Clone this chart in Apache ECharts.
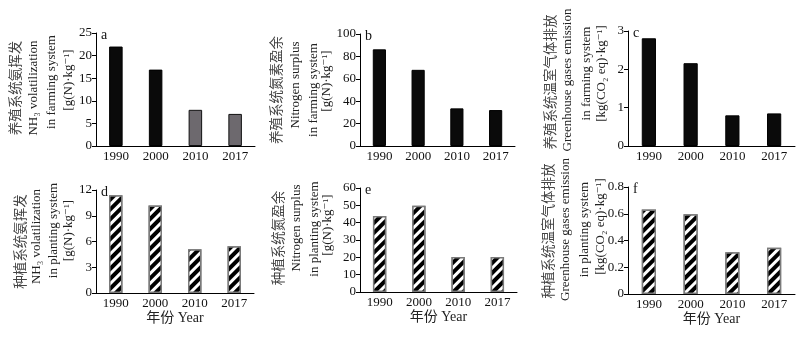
<!DOCTYPE html>
<html><head><meta charset="utf-8">
<script src="https://cdn.jsdelivr.net/npm/echarts@6/dist/echarts.min.js"></script>
<style>html,body{margin:0;padding:0;background:#fff}#c{width:803px;height:339px}</style>
</head><body><div id="c"></div>
<script>
var years = ['1990','2000','2010','2017'];
var nh3Farming = [22.0, 16.9, 8.0, 7.1];
var nSurplusFarming = [86.3, 68.0, 33.6, 32.1];
var ghgFarming = [2.81, 2.16, 0.80, 0.85];
var nh3Planting = [11.4, 10.2, 5.1, 5.45];
var nSurplusPlanting = [43.8, 49.8, 20.2, 20.2];
var ghgPlanting = [0.631, 0.596, 0.313, 0.345];
var panelLetters = ['a','b','c','d','e','f'];
var yMax = [25, 100, 3, 12, 60, 0.8];
var yStep = [5, 20, 1, 3, 10, 0.2];
var yNameLines = [
  ['养殖系统氨挥发','NH₃ volatilization','in farming system','[g(N)·kg⁻¹]'],
  ['养殖系统氮素盈余','Nitrogen surplus','in farming system','[g(N)·kg⁻¹]'],
  ['养殖系统温室气体排放','Greenhouse gases emission','in farming system','[kg(CO₂ eq)·kg⁻¹]'],
  ['种植系统氨挥发','NH₃ volatilization','in planting system','[g(N)·kg⁻¹]'],
  ['种植系统氮盈余','Nitrogen surplus','in planting system','[g(N)·kg⁻¹]'],
  ['种植系统温室气体排放','Greenhouse gases emission','in planting system','[kg(CO₂ eq)·kg⁻¹]']
];
var xName = '年份 Year';
var allData = [nh3Farming, nSurplusFarming, ghgFarming, nh3Planting, nSurplusPlanting, ghgPlanting];

var grids = [
  {left:96, top:33, width:159, height:113},
  {left:360, top:34, width:155, height:112},
  {left:628, top:31, width:167, height:115},
  {left:96, top:190, width:158, height:103},
  {left:360, top:188, width:157, height:104},
  {left:628, top:187, width:167, height:107}
];
var lineOffsets = [
  [-81,-62,-44,-27],
  [-84,-64,-46,-33],
  [-78,-60,-41,-26],
  [-76,-59,-42,-27],
  [-82,-63,-45,-32],
  [-80,-62,-43,-27]
];
var lineShifts = [
  [-1.5,-1.5,-7.5,-9.5],
  [0,-5,0,-9],
  [-6.5,-8.5,-15,-15],
  [0,-5,-11,-11],
  [-2,-12,-11,-15],
  [-9.5,-11,-11,-14]
];
var SERIF = '"Liberation Serif","DejaVu Serif",serif';
var CJK = '"Noto Sans CJK SC",sans-serif';
var options = {grid:[], xAxis:[], yAxis:[], series:[], title:[], graphic:[], animation:false, backgroundColor:'#fff'};
for (var i=0;i<6;i++){
  var g = grids[i];
  options.grid.push(Object.assign({containLabel:false}, g));
  options.xAxis.push({
    type:'category', gridIndex:i, data:years,
    name: i>=3 ? xName : '', nameLocation:'middle', nameGap:18,
    nameTextStyle:{fontFamily:SERIF+','+CJK, fontSize:14, color:'#222', verticalAlign:'top'},
    axisLine:{lineStyle:{color:'#000', width:1}},
    axisTick:{inside:true, length:4, lineStyle:{color:'#000'}},
    axisLabel:{fontFamily:SERIF, fontSize:13, color:'#111', margin:4}
  });
  options.yAxis.push({
    type:'value', gridIndex:i, min:0, max:yMax[i], interval:yStep[i],
    splitLine:{show:false},
    axisLine:{show:true, lineStyle:{color:'#000', width:1}},
    axisTick:{show:true, length:4, lineStyle:{color:'#000'}},
    axisLabel:{fontFamily:SERIF, fontSize:13, color:'#111', margin:4}
  });
  var hatched = i>=3;
  var dataItems = allData[i].map(function(v, k){
    var item = {value:v};
    if (i===0 && k>=2) item.itemStyle = {color:'#6d696e', borderColor:'#111', borderWidth:1};
    return item;
  });
  options.series.push({
    type:'bar', xAxisIndex:i, yAxisIndex:i, data:dataItems, barWidth:'34%',
    itemStyle: hatched ? {
      color:'#fff', borderColor:'#7a7a7a', borderWidth:1.5,
      decal:{symbol:'rect', color:'#000', backgroundColor:'#fff', dashArrayX:[1,0], dashArrayY:[4,3], rotation:-Math.PI/4}
    } : {color:'#0a0a0a', borderColor:'#000', borderWidth:1}
  });
  options.title.push({
    text: panelLetters[i], left: g.left+5, top: g.top-5,
    textStyle:{fontFamily:SERIF, fontSize:14, fontWeight:'normal', color:'#111'}, padding:0
  });
  var cy = g.top + g.height/2;
  yNameLines[i].forEach(function(txt, j){
    options.graphic.push({
      type:'text', x: g.left + lineOffsets[i][j], y: cy + lineShifts[i][j], rotation: Math.PI/2,
      style:{text: txt, fontFamily: j===0 ? CJK : SERIF, fontSize: j===0 ? 13.5 : 13,
             fill: j===0 ? '#444' : '#222', align:'center', verticalAlign:'middle'}
    });
  });
}
var chart = echarts.init(document.getElementById('c'), null, {renderer:'canvas'});
chart.setOption(options);
</script></body></html>
